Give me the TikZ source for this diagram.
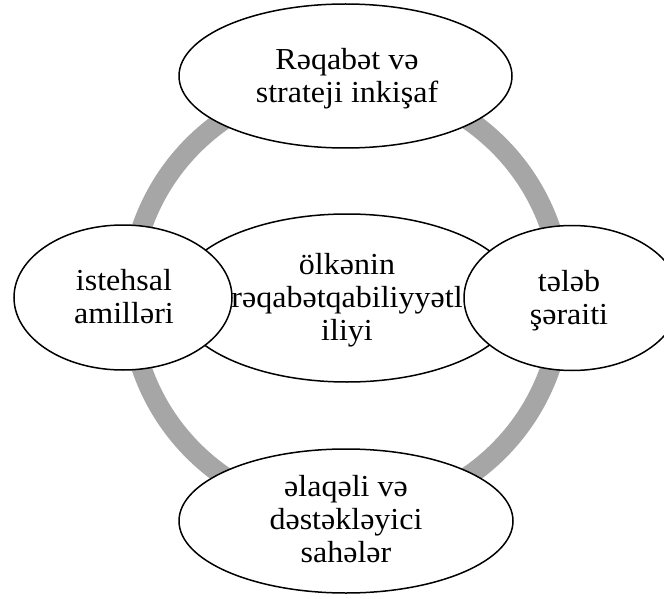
\documentclass[tikz,border=0pt]{standalone}
\usepackage{fontspec}
\setmainfont{Liberation Serif}[FakeStretch=1.05]
\usetikzlibrary{shapes.geometric}
\definecolor{ringgray}{RGB}{166,166,166}
\tikzset{
  bubble/.style={ellipse, draw=black, line width=1.5pt, fill=white, inner sep=0pt},
  label/.style={align=center, inner sep=0pt, font=\fontsize{30.5}{33}\selectfont},
}
\begin{document}
\begin{tikzpicture}[x=1pt, y=-1pt]
\useasboundingbox (0,0) rectangle (664,599);
% ring
\node[circle, minimum size=432pt, inner sep=0pt] (ring) at (346,298) {};
\draw[ringgray, line width=20pt] (ring.center) circle[radius=216pt];
% centre
\node[bubble, minimum width=344pt, minimum height=168pt] (core) at (347,298) {};
\node[label] (coreT) at (347,300) {ölkənin\\rəqabətqabiliyyətl\\iliyi};
% sides
\node[bubble, minimum width=218pt, minimum height=145pt] (factors) at (123,297.5) {};
\node[bubble, minimum width=216pt, minimum height=145pt] (demand) at (572,298) {};
% top and bottom
\node[bubble, minimum width=333pt, minimum height=144pt] (rivalry) at (345.5,76) {};
\node[bubble, minimum width=334pt, minimum height=144pt] (related) at (346,521) {};
% texts
\node[label] (factorsT) at (124,297) {istehsal\\amilləri};
\node[label] (demandT) at (569,301) {tələb\\şəraiti};
\node[label] (rivalryT) at (347,79) {Rəqabət və\\strateji inkişaf};
\node[label] (relatedT) at (346,519.5) {əlaqəli və\\dəstəkləyici\\sahələr};
\end{tikzpicture}
\end{document}
